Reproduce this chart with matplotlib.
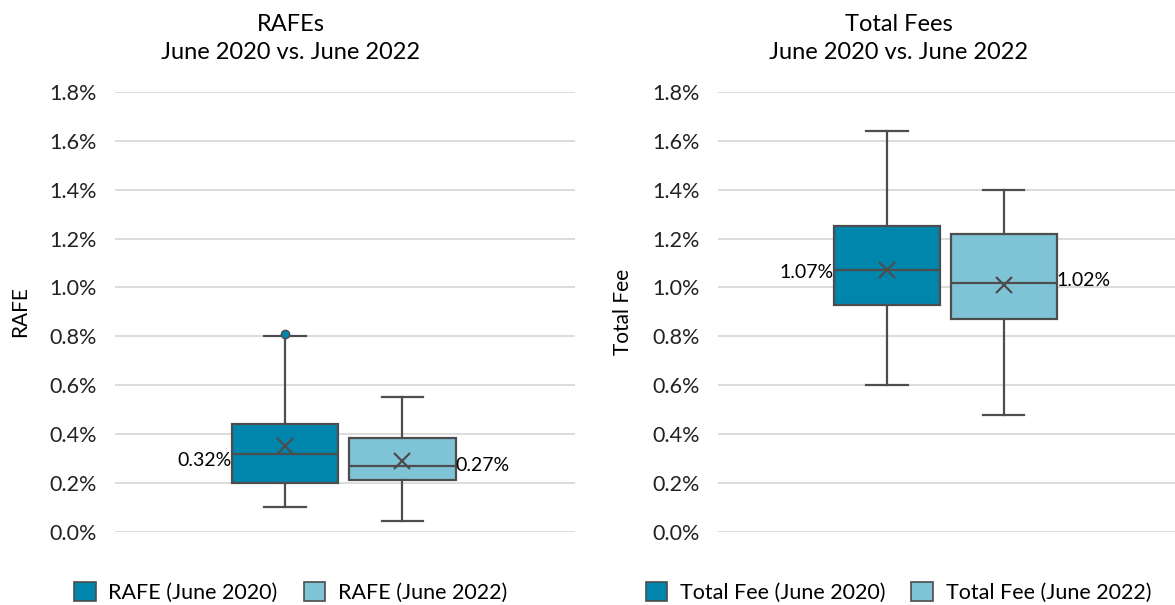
import matplotlib
matplotlib.use('Agg')
import matplotlib.pyplot as plt
from matplotlib.patches import Patch
from matplotlib.ticker import FuncFormatter

plt.rcParams['font.family'] = ['Lato', 'DejaVu Sans']

# values in %
rafe_labels = ['RAFE (June 2020)', 'RAFE (June 2022)']
rafe_q1 = [0.20, 0.21]
rafe_med = [0.32, 0.27]
rafe_q3 = [0.44, 0.385]
rafe_mean = [0.35, 0.29]
rafe_lo = [0.10, 0.045]
rafe_hi = [0.80, 0.55]
rafe_fliers = [[0.81], []]

fee_labels = ['Total Fee (June 2020)', 'Total Fee (June 2022)']
fee_q1 = [0.93, 0.87]
fee_med = [1.07, 1.02]
fee_q3 = [1.25, 1.22]
fee_mean = [1.07, 1.01]
fee_lo = [0.60, 0.48]
fee_hi = [1.64, 1.40]
fee_fliers = [[], []]

dark = '#0086AD'
light = '#7FC3D7'
edge = '#4D4D4D'
colors = [dark, light]


def draw(ax, title, ylab, labels, q1, med, q3, mean, lo, hi, fliers, label_side, cx):
    stats = []
    for i in range(2):
        stats.append(dict(q1=q1[i], med=med[i], q3=q3[i], mean=mean[i],
                          whislo=lo[i], whishi=hi[i], fliers=fliers[i]))
    pos = [0.37, 0.625]
    b = ax.bxp(stats, positions=pos, widths=0.232, patch_artist=True,
               showmeans=True, meanline=False,
               boxprops=dict(edgecolor=edge, linewidth=1.6),
               medianprops=dict(color=edge, linewidth=1.6),
               whiskerprops=dict(color=edge, linewidth=1.6),
               capprops=dict(color=edge, linewidth=1.6),
               capwidths=0.09,
               meanprops=dict(marker='x', markeredgecolor=edge, markersize=12,
                              markeredgewidth=1.6),
               flierprops=dict(marker='o', markerfacecolor=dark,
                               markeredgecolor=edge, markersize=6))
    for p, c in zip(b['boxes'], colors):
        p.set_facecolor(c)
    ax.set_xlim(0, 1)
    ax.set_ylim(0, 1.8)
    ax.set_yticks([i * 0.2 for i in range(10)])
    ax.yaxis.set_major_formatter(FuncFormatter(lambda v, _: f'{v:.1f}%'))
    ax.set_xticks([])
    ax.grid(axis='y', color='#D9D9D9', linewidth=1.3)
    ax.set_axisbelow(True)
    for s in ax.spines.values():
        s.set_visible(False)
    ax.tick_params(axis='y', length=0, labelsize=15.5, pad=13, colors='#222222')
    ax.set_ylabel(ylab, fontsize=15, labelpad=14)
    ax.set_title(title, fontsize=17, linespacing=1.4, pad=24, x=cx)
    # median data labels
    ax.text(pos[0] - 0.116, med[0] + label_side[0], f'{med[0]:.2f}%',
            ha='right', va='center', fontsize=14)
    ax.text(pos[1] + 0.116, med[1] - label_side[1], f'{med[1]:.2f}%',
            ha='left', va='center', fontsize=14)
    handles = [Patch(facecolor=c, edgecolor=edge, linewidth=1.2) for c in colors]
    ax.legend(handles, labels, loc='upper center', bbox_to_anchor=(cx, -0.07),
              ncol=2, frameon=False, fontsize=15.5, handlelength=1.0,
              handleheight=1.0, handletextpad=0.6, columnspacing=1.2)


fig = plt.figure(figsize=(11.75, 6.05), dpi=100)
ax1 = fig.add_axes([0.098, 0.121, 0.391, 0.727])
ax2 = fig.add_axes([0.611, 0.121, 0.389, 0.727])

draw(ax1, 'RAFEs\nJune 2020 vs. June 2022', 'RAFE', rafe_labels,
     rafe_q1, rafe_med, rafe_q3, rafe_mean, rafe_lo, rafe_hi, rafe_fliers,
     [-0.03, 0.0], 0.382)
draw(ax2, 'Total Fees\nJune 2020 vs. June 2022', 'Total Fee', fee_labels,
     fee_q1, fee_med, fee_q3, fee_mean, fee_lo, fee_hi, fee_fliers,
     [-0.01, -0.01], 0.395)

fig.savefig('out.png', dpi=100)
